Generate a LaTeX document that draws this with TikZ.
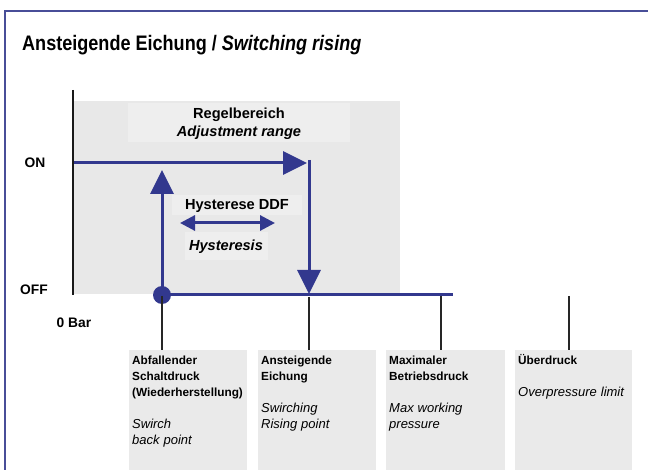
\documentclass[tikz,border=0pt]{standalone}
\usepackage{fontspec}
\setmainfont{Liberation Sans}
\newfontfamily\condfont[FakeStretch=0.86]{Liberation Sans}
\usetikzlibrary{arrows.meta}
\definecolor{navy}{RGB}{50,56,142}
\definecolor{framec}{RGB}{72,78,152}
\definecolor{graybg}{RGB}{232,232,232}
\definecolor{graylt}{RGB}{238,238,238}
\definecolor{boxgray}{RGB}{234,234,234}
\tikzset{
  flow/.style={draw=navy, line width=3pt},
  bigtip/.style={-{Triangle[length=24pt,width=23pt]}},
  tick/.style={draw=black!85, line width=1.2pt},
  panel/.style={fill=boxgray, draw=none, anchor=north west, inner sep=0pt},
  lbl/.style={font=\fontsize{13.8}{16}\selectfont\bfseries, inner sep=0pt},
  mid/.style={font=\fontsize{14.6}{18}\selectfont\bfseries, inner sep=0pt},
  boxtext/.style={anchor=north west, inner sep=0pt, text width=116pt, align=left,
    font=\fontsize{11.8}{16}\selectfont\bfseries}
}
\newcommand{\itpart}{\normalfont\itshape\fontsize{13}{16}\selectfont}
\begin{document}
\begin{tikzpicture}[x=1pt,y=-1pt]
\useasboundingbox (0,0) rectangle (648,470);
% frame
\draw[framec, line width=2pt] (5,470) -- (5,11) -- (648,11);
% title
\node[anchor=base west, inner sep=0pt, font=\condfont\fontsize{21}{24}\selectfont\bfseries] (title) at (22,50.5)
  {Ansteigende Eichung / \textit{Switching rising}};
% gray region
\fill[graybg] (73,101) rectangle (400,294);
\node[fill=graylt, minimum width=222pt, minimum height=39pt, inner sep=0pt, anchor=north west] (regbox) at (128,103) {};
\node[mid, anchor=base] (reg1) at (239,119) {Regelbereich};
\node[mid, anchor=base] (reg2) at (239,137) {\textit{Adjustment range}};
\node[fill=graylt, minimum width=130pt, minimum height=20pt, inner sep=0pt, anchor=north west] (hysbox) at (172,195) {};
\node[mid, anchor=base] (hys1) at (237,210) {Hysterese DDF};
\node[fill=graylt, minimum width=83pt, minimum height=28pt, inner sep=0pt, anchor=north west] (hysbox2) at (185,232) {};
\node[mid, anchor=base] (hys2) at (226,251) {\textit{Hysteresis}};
% axis
\coordinate (axtop) at (73,90);
\coordinate (axbot) at (73,295);
\draw[black!90, line width=1.5pt] (axtop) -- (axbot);
% labels
\node[lbl, anchor=base] (on) at (35,168) {ON};
\node[lbl, anchor=base] (off) at (34,295) {OFF};
\node[lbl, anchor=base] (zero) at (74,328) {0 Bar};
% coordinates
\coordinate (onstart) at (74,163);
\coordinate (ontip) at (307,163);
\coordinate (dtop) at (309,160);
\coordinate (dtip) at (309,294);
\coordinate (utip) at (162,170);
\coordinate (offend) at (453,295);
\node[circle, fill=navy, minimum size=18pt, inner sep=0pt] (dot) at (162,295) {};
% flows
\draw[flow, bigtip] (onstart) -- (ontip);
\draw[flow, bigtip] (dtop) -- (dtip);
\draw[flow, bigtip] (dot.center) -- (utip);
\draw[flow] (dot.center) -- (offend);
\coordinate (hl) at (180,223);
\coordinate (hr) at (275,223);
\draw[flow, {Triangle[length=15pt,width=15pt]}-{Triangle[length=15pt,width=15pt]}] (hl) -- (hr);
% panels
\node[panel, minimum width=118pt, minimum height=120pt] (p1) at (129,350) {};
\node[panel, minimum width=118pt, minimum height=120pt] (p2) at (258,350) {};
\node[panel, minimum width=119pt, minimum height=120pt] (p3) at (386,350) {};
\node[panel, minimum width=117pt, minimum height=120pt] (p4) at (515,350) {};
% ticks
\coordinate (t1) at (162,296);
\coordinate (t2) at (309,297);
\coordinate (t3) at (441,296);
\coordinate (t4) at (569,296);
\draw[tick] (t1) -- (t1 |- p1.north);
\draw[tick] (t2) -- (t2 |- p2.north);
\draw[tick] (t3) -- (t3 |- p3.north);
\draw[tick] (t4) -- (t4 |- p4.north);
% panel texts
\node[boxtext] (tx1) at ([xshift=3pt,yshift=-4pt]p1.north west)
  {\rule{0pt}{10pt}Abfallender\\Schaltdruck\\(Wiederherstellung)\\[16pt]{\itpart Swirch\\back point}};
\node[boxtext] (tx2) at ([xshift=3pt,yshift=-4pt]p2.north west)
  {\rule{0pt}{10pt}Ansteigende\\Eichung\\[16pt]{\itpart Swirching\\Rising point}};
\node[boxtext] (tx3) at ([xshift=3pt,yshift=-4pt]p3.north west)
  {\rule{0pt}{10pt}Maximaler\\Betriebsdruck\\[16pt]{\itpart Max working\\pressure}};
\node[boxtext] (tx4) at ([xshift=3pt,yshift=-4pt]p4.north west)
  {\rule{0pt}{10pt}Überdruck\\[16pt]{\itpart Overpressure limit}};
\end{tikzpicture}
\end{document}
